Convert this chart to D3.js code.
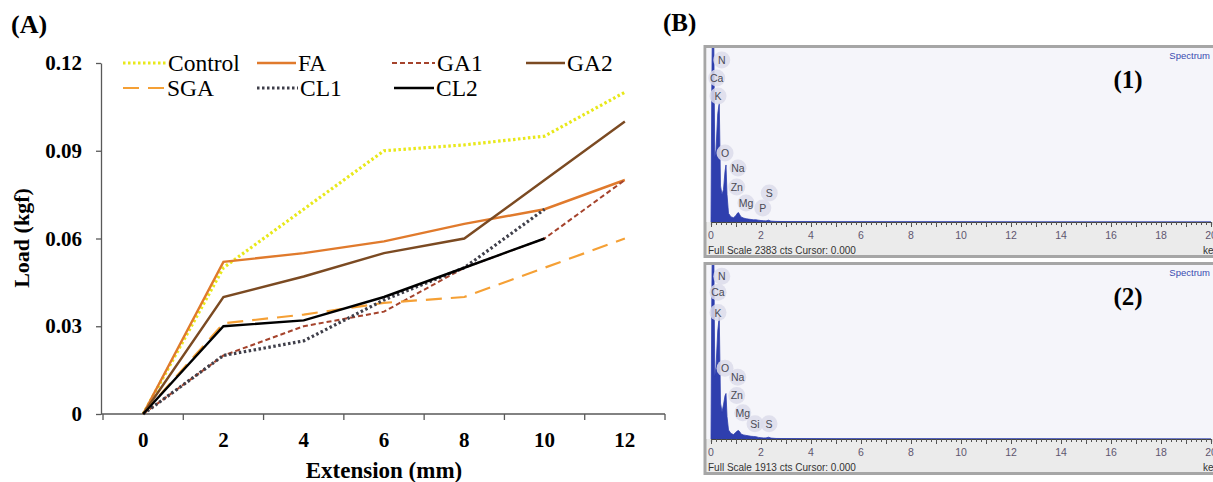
<!DOCTYPE html>
<html>
<head>
<meta charset="utf-8">
<script src="https://cdn.jsdelivr.net/npm/d3@7"></script>
<style>
  body { margin: 0; background: #fff; }
  svg { display: block; }
</style>
</head>
<body>
<svg id="fig" width="1213" height="482"></svg>
<script>
// ---- (A) load / extension data ----
const categories = ["0", "2", "4", "6", "8", "10", "12"];
const yTicks = [0, 0.03, 0.06, 0.09, 0.12];
const seriesNames = ["Control", "FA", "GA1", "GA2", "SGA", "CL1", "CL2"];
const control = [0, 0.05, 0.07, 0.09, 0.092, 0.095, 0.11];
const fa      = [0, 0.052, 0.055, 0.059, 0.065, 0.07, 0.08];
const ga1     = [0, 0.02, 0.03, 0.035, 0.05, 0.06, 0.08];
const ga2     = [0, 0.04, 0.047, 0.055, 0.06, 0.08, 0.1];
const sga     = [0, 0.031, 0.034, 0.038, 0.04, 0.05, 0.06];
const cl1     = [0, 0.02, 0.025, 0.039, 0.05, 0.07, null];
const cl2     = [0, 0.03, 0.032, 0.04, 0.05, 0.06, null];

// ---- (B) EDX spectra ----
const energy  = [0, 0.03, 0.07, 0.11, 0.15, 0.2, 0.27, 0.33, 0.38, 0.44, 0.5, 0.56, 0.6, 0.64, 0.7, 0.8, 0.9, 1.0, 1.05, 1.1, 1.15, 1.2, 1.3, 1.4, 1.5, 1.6, 1.7, 1.8, 1.9, 2.0, 2.1, 2.2, 2.3, 2.4, 2.6, 3, 5, 10, 20];
const counts1 = [0, 1800, 3200, 2600, 900, 1000, 1500, 1650, 500, 380, 450, 700, 790, 380, 120, 70, 60, 90, 120, 130, 100, 70, 55, 45, 40, 35, 30, 30, 25, 20, 18, 15, 25, 12, 8, 6, 4, 2, 0];
const counts2 = [0, 1500, 2700, 2200, 700, 800, 1200, 1360, 400, 300, 380, 480, 506, 250, 100, 60, 50, 75, 90, 95, 80, 55, 45, 40, 35, 30, 28, 25, 18, 14, 12, 12, 20, 10, 6, 5, 3, 2, 0];
const fullScale = [2383, 1913];
const keVLabels = [0, 2, 4, 6, 8, 10, 12, 14, 16, 18, 20];
const peaks1 = [["N", 0.43, 2245], ["Ca", 0.23, 1995], ["K", 0.28, 1746], ["O", 0.56, 956], ["Na", 1.08, 748],
                ["Zn", 1.03, 485], ["Mg", 1.4, 263], ["P", 2.07, 194], ["S", 2.33, 402]];
const peaks2 = [["N", 0.43, 1811], ["Ca", 0.28, 1631], ["K", 0.28, 1406], ["O", 0.56, 788], ["Na", 1.07, 686],
                ["Zn", 1.03, 484], ["Mg", 1.27, 293], ["Si", 1.76, 169], ["S", 2.32, 169]];

const svg = d3.select("#fig");
const serif = "'Liberation Serif', 'Times New Roman', serif";
const sans = "'Liberation Sans', Arial, sans-serif";

// ================= panel A =================
const x = d3.scaleBand().domain(categories).range([103, 665]);
const y = d3.scaleLinear().domain([0, 0.12]).range([414, 63]);
const cx = c => x(c) + x.bandwidth() / 2;

const gA = svg.append("g");

// y axis
const yAxis = gA.append("g")
  .attr("transform", "translate(101,0)")
  .call(d3.axisLeft(y).tickValues(yTicks).tickSize(5).tickSizeOuter(0)
    .tickFormat(d => d === 0 ? "0" : d.toFixed(2)));
yAxis.select(".domain").attr("stroke", "#595959").attr("stroke-width", 1.3);
yAxis.selectAll(".tick line").attr("stroke", "#595959").attr("stroke-width", 1.3);
yAxis.selectAll("text").attr("x", -19).attr("fill", "#000")
  .style("font", `bold 21px ${serif}`);

// x axis: ticks on band edges, labels at band centres
const xAxis = gA.append("g").attr("transform", "translate(0,414)");
xAxis.append("line").attr("x1", 101).attr("x2", 665).attr("stroke", "#595959").attr("stroke-width", 1.3);
xAxis.selectAll("line.tk")
  .data(categories.map(c => x(c)).concat([x.range()[1]]))
  .enter().append("line").attr("class", "tk")
  .attr("x1", d => d).attr("x2", d => d).attr("y1", 0).attr("y2", 6)
  .attr("stroke", "#595959").attr("stroke-width", 1.3);
xAxis.selectAll("text")
  .data(categories).enter().append("text")
  .attr("x", d => cx(d)).attr("y", 33)
  .attr("text-anchor", "middle")
  .style("font", `bold 21px ${serif}`)
  .text(d => d);

gA.append("text").attr("x", 384).attr("y", 478).attr("text-anchor", "middle")
  .style("font", `bold 23px ${serif}`).text("Extension (mm)");
gA.append("text").attr("transform", "translate(29,238) rotate(-90)").attr("text-anchor", "middle")
  .style("font", `bold 22px ${serif}`).text("Load (kgf)");
svg.append("text").attr("x", 11).attr("y", 33).style("font", `bold 26px ${serif}`).text("(A)");

// series styles
const styles = {
  Control: { data: control, color: "#e8e81a", width: 3.2, dash: "2.5 2.5" },
  FA:      { data: fa,      color: "#e07a2c", width: 2.4, dash: null },
  GA1:     { data: ga1,     color: "#a5432c", width: 2,   dash: "5 3" },
  GA2:     { data: ga2,     color: "#7b4a22", width: 2.4, dash: null },
  SGA:     { data: sga,     color: "#f5a035", width: 2.2, dash: "16 9" },
  CL1:     { data: cl1,     color: "#3f3f4a", width: 3.2, dash: "2.5 2.5" },
  CL2:     { data: cl2,     color: "#000000", width: 2.4, dash: null }
};

const line = d3.line()
  .defined(d => d.v !== null)
  .x(d => cx(d.c))
  .y(d => y(d.v));

seriesNames.forEach(name => {
  const s = styles[name];
  gA.append("path")
    .datum(categories.map((c, i) => ({ c: c, v: s.data[i] })))
    .attr("fill", "none")
    .attr("stroke", s.color)
    .attr("stroke-width", s.width)
    .attr("stroke-dasharray", s.dash)
    .attr("d", line);
});

// legend
const legendPos = {
  Control: [123, 63, 168], FA: [257, 63, 298], GA1: [392, 63, 437], GA2: [526, 63, 567],
  SGA: [123, 88, 167], CL1: [257, 88, 300], CL2: [394, 88, 436]
};
seriesNames.forEach(name => {
  const s = styles[name], p = legendPos[name];
  gA.append("line").attr("x1", p[0]).attr("x2", p[2] - 2).attr("y1", p[1]).attr("y2", p[1])
    .attr("stroke", s.color).attr("stroke-width", s.width).attr("stroke-dasharray", s.dash);
  gA.append("text").attr("x", p[2]).attr("y", p[1] + 8)
    .style("font", `23.5px ${serif}`).text(name);
});

// ================= panel B =================
svg.append("text").attr("x", 663).attr("y", 31).style("font", `bold 25px ${serif}`).text("(B)");

const xe = d3.scaleLinear().domain([0, 20]).range([711, 1211]);

function spectrum(top, counts, full, peaks, tag) {
  const g = svg.append("g");
  const base = top + 177;
  const yc = d3.scaleLinear().domain([0, full]).range([base, top + 5]);

  g.append("rect").attr("x", 705).attr("y", top + 1.5).attr("width", 530).attr("height", 210)
    .attr("fill", "#ebebeb").attr("stroke", "#a6a6a6").attr("stroke-width", 3);
  g.append("rect").attr("x", 706.5).attr("y", top + 3).attr("width", 520).attr("height", base - top - 3)
    .attr("fill", "#f5f5fa");

  const clipId = "clip" + tag;
  g.append("clipPath").attr("id", clipId).append("rect")
    .attr("x", 706.5).attr("y", top + 3).attr("width", 520).attr("height", base - top - 3);

  const area = d3.area()
    .x((d, i) => xe(energy[i]))
    .y0(base)
    .y1(d => yc(d));
  g.append("path").datum(counts).attr("clip-path", `url(#${clipId})`)
    .attr("fill", "#2f3fae").attr("stroke", "#2f3fae").attr("stroke-width", 0.8)
    .attr("d", area);

  // element markers
  const pk = g.selectAll("g.pk").data(peaks).enter().append("g").attr("class", "pk")
    .attr("transform", d => `translate(${xe(d[1])},${yc(d[2])})`);
  pk.append("circle").attr("r", 8.5).attr("fill", "#dcdcea").attr("opacity", 0.85);
  pk.append("text").attr("text-anchor", "middle").attr("dy", 4)
    .attr("fill", "#4a4a55").style("font", `10.5px ${sans}`).text(d => d[0]);

  // keV axis
  const ax = g.append("g").attr("transform", `translate(0,${base})`);
  ax.call(d3.axisBottom(xe).tickValues(d3.range(0, 20.01, 0.2)).tickSize(3).tickFormat(""));
  ax.select(".domain").attr("stroke", "#444").attr("stroke-width", 1.2);
  ax.selectAll(".tick line").attr("stroke", "#555");
  ax.selectAll(".tick")
    .filter(d => Math.abs(d - Math.round(d)) < 1e-6)
    .select("line").attr("y2", 5);
  g.selectAll("text.kev").data(keVLabels).enter().append("text").attr("class", "kev")
    .attr("x", d => xe(d)).attr("y", base + 17).attr("text-anchor", "middle")
    .attr("fill", "#5f566f").style("font", `10.5px ${sans}`).text(d => d);
  g.append("text").attr("x", 1203).attr("y", base + 32).attr("fill", "#333")
    .style("font", `10px ${sans}`).text("keV");
  g.append("text").attr("x", 708).attr("y", base + 32).attr("fill", "#333")
    .style("font", `10px ${sans}`).text(`Full Scale ${full} cts Cursor: 0.000`);

  g.append("text").attr("x", 1210).attr("y", top + 14).attr("text-anchor", "end")
    .attr("fill", "#3a4bb0").style("font", `9.5px ${sans}`).text("Spectrum");
  g.append("text").attr("x", 1128).attr("y", top + 43).attr("text-anchor", "middle")
    .style("font", `bold 25px ${serif}`).text(`(${tag})`);
}

spectrum(45, counts1, fullScale[0], peaks1, "1");
spectrum(262, counts2, fullScale[1], peaks2, "2");
</script>
</body>
</html>
